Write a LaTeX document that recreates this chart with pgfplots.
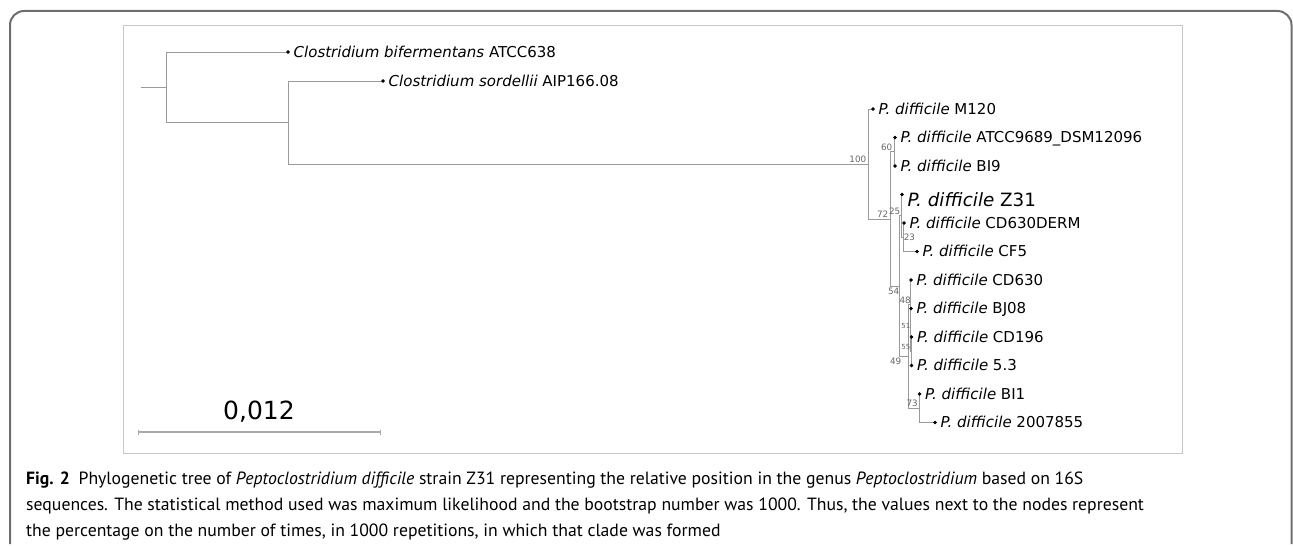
\documentclass[border=0pt]{standalone}
\usepackage{pgfplots}
\pgfplotsset{compat=1.18}
\usepackage{fontspec}
\setmainfont{DejaVu Sans}
\newfontfamily\capfont{PT Sans}
\definecolor{treegray}{HTML}{9A9A9A}
\definecolor{framegray}{HTML}{6E6E6E}
\definecolor{boxgray}{HTML}{C8C8C8}
\definecolor{bsgray}{HTML}{666666}
\newcommand{\pd}{\textit{P. difficile}}

\begin{document}
\begin{tikzpicture}
\begin{axis}[
  scale only axis, width=1293bp, height=544bp,
  xmin=0, xmax=1293, ymin=0, ymax=544, y dir=reverse,
  axis line style={draw=none}, xtick=\empty, ytick=\empty,
  clip=false,
  tree/.style={draw=treegray, line width=0.9bp, mark=none},
  leaf/.style={only marks, mark=*, mark size=1.5bp, black,
    point meta=explicit symbolic, nodes near coords,
    every node near coord/.append style={anchor=base west, inner sep=0pt,
      xshift=5.5bp, yshift=-5.4bp, text=black,
      font=\fontsize{15bp}{18bp}\selectfont, #1}},
  leaf/.default={},
  boot/.style={draw=none, mark=none, point meta=explicit symbolic,
    nodes near coords,
    every node near coord/.append style={inner sep=0.6bp, text=bsgray,
      font=\fontsize{8.8bp}{10bp}\selectfont, #1}},
]
% tree branches (pixel layout)
\addplot[tree] coordinates {(141,87.25)(166,87.25)};
\addplot[tree] coordinates {(288,52)(166,52)(166,122.5)(288,122.5)};
\addplot[tree] coordinates {(383,81)(288,81)(288,164)(868,164)};
\addplot[tree] coordinates {(873,109)(868,109)(868,219)(890,219)};
\addplot[tree] coordinates {(894,151.75)(890,151.75)(890,286.2)(899,286.2)};
\addplot[tree] coordinates {(895,137.5)(894,137.5)(894,166)(895,166)};
\addplot[tree] coordinates {(901,215.9)(899,215.9)(899,356.6)(908,356.6)};
\addplot[tree] coordinates {(902,194.5)(901,194.5)(901,237.25)(903,237.25)};
\addplot[tree] coordinates {(904,223)(903,223)(903,251.5)(917,251.5)};
\addplot[tree] coordinates {(910,304.9)(908,304.9)(908,408.25)(919,408.25)};
\addplot[tree] coordinates {(911,280)(910,280)(910,329.9)(910.5,329.9)};
\addplot[tree] coordinates {(911,308.5)(910.5,308.5)(910.5,351.25)(911,351.25)};
\addplot[tree] coordinates {(911.5,337)(911,337)(911,365.5)(911.5,365.5)};
\addplot[tree] coordinates {(919.5,394)(919,394)(919,422.5)(935,422.5)};

% leaves
\addplot[leaf] coordinates {
  (288,52) [\textit{Clostridium bifermentans} ATCC638]
  (383,81) [\textit{Clostridium sordellii} AIP166.08]
  (873,109) [\pd{} M120]
  (895,137.5) [\pd{} ATCC9689\_DSM12096]
  (895,166) [\pd{} BI9]
  (904,223) [\pd{} CD630DERM]
  (917,251.5) [\pd{} CF5]
  (911,280) [\pd{} CD630]
  (911,308.5) [\pd{} BJ08]
  (911.5,337) [\pd{} CD196]
  (911.5,365.5) [\pd{} 5.3]
  (919.5,394) [\pd{} BI1]
  (935,422.5) [\pd{} 2007855]
};
\addplot[leaf={font=\fontsize{18.3bp}{20bp}\selectfont, yshift=-6.6bp}]
  coordinates {(902,194.5) [\pd{} Z31]};

% bootstrap values
\addplot[boot={anchor=south east}] coordinates {
  (867,163)[100] (889,218)[72] (893,151.5)[60] (901,215)[25]
  (911.5,304)[48] (918.5,407.5)[73]};
\addplot[boot={anchor=south east, font=\fontsize{7bp}{8bp}\selectfont}]
  coordinates {(911,329)[51] (911,350.5)[55]};
\addplot[boot={anchor=north east}] coordinates {(900,287)[54] (902,357.5)[49]};
\addplot[boot={anchor=west}] coordinates {(903,237.5)[23]};

% scale bar
\addplot[draw=boxgray!85!black, line width=1.4bp, mark=none] coordinates {(138,432)(380,432)};
\addplot[draw=boxgray!85!black, line width=0.8bp, mark=none] coordinates {(138,429.5)(138,434.5)};
\addplot[draw=boxgray!85!black, line width=0.8bp, mark=none] coordinates {(380,429.5)(380,434.5)};
\node[font=\fontsize{25bp}{28bp}\selectfont] at (axis cs:259,412) {0,012};

% frames
\draw[boxgray, line width=1bp] (axis cs:123,26) rectangle (axis cs:1182,453);
\draw[framegray, line width=2bp, rounded corners=14bp]
  (axis cs:10,544) -- (axis cs:10,11) -- (axis cs:1291.5,11) -- (axis cs:1291.5,544);

% caption
\node[anchor=base west, inner sep=0pt, font=\capfont\fontsize{17.7bp}{20bp}\selectfont] at (axis cs:26,484)
  {\textbf{Fig. 2}\hspace{0.5em}Phylogenetic tree of \textit{Peptoclostridium difficile} strain Z31 representing the relative position in the genus \textit{Peptoclostridium} based on 16S};
\node[anchor=base west, inner sep=0pt, font=\capfont\fontsize{17.7bp}{20bp}\selectfont] at (axis cs:26,510)
  {sequences. The statistical method used was maximum likelihood and the bootstrap number was 1000. Thus, the values next to the nodes represent};
\node[anchor=base west, inner sep=0pt, font=\capfont\fontsize{17.7bp}{20bp}\selectfont] at (axis cs:26,536)
  {the percentage on the number of times, in 1000 repetitions, in which that clade was formed};
\end{axis}
\end{tikzpicture}
\end{document}
